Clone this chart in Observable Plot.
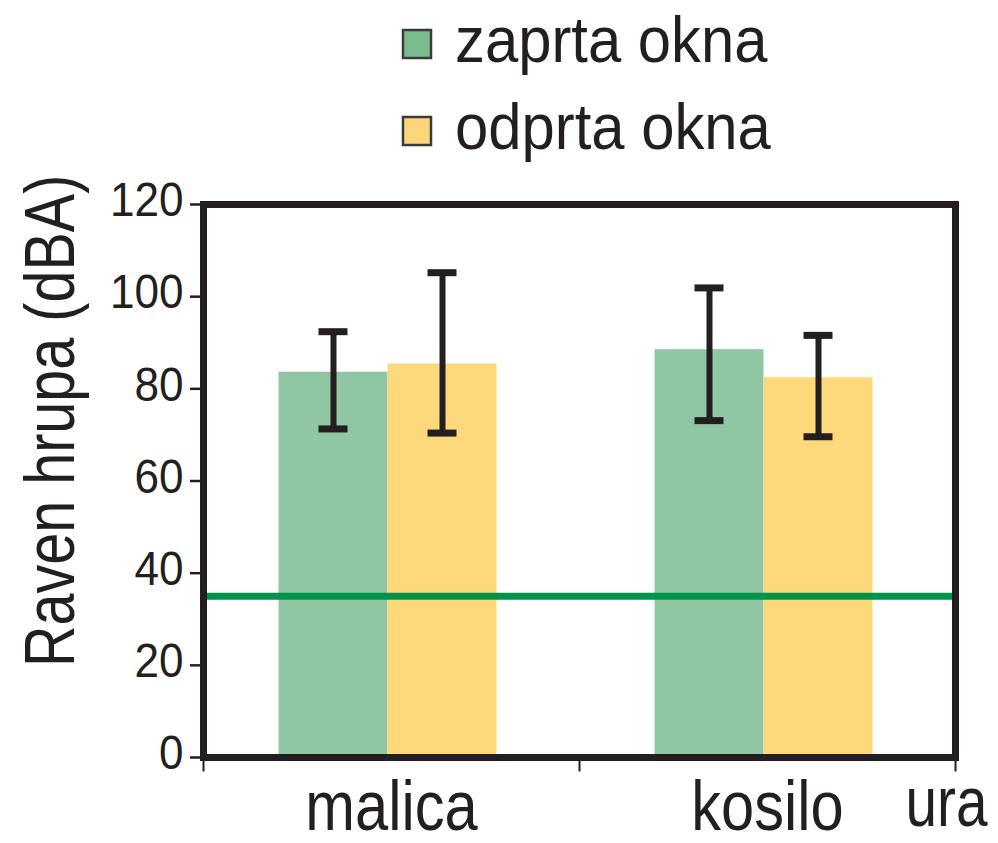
<!DOCTYPE html>
<html><head><meta charset="utf-8">
<script src="https://cdn.jsdelivr.net/npm/d3@7"></script>
<script src="https://cdn.jsdelivr.net/npm/@observablehq/plot@0.6"></script>
<style>
body{margin:0;background:#fff;}
#chart{position:relative;width:998px;height:843px;}
</style></head><body><div id="chart"></div>
<script>
const categories = ["malica", "kosilo"];
const seriesNames = ["zaprta okna", "odprta okna"];
const zaprtaMean = [83.6, 88.5];
const zaprtaLow = [71.3, 73.1];
const zaprtaHigh = [92.4, 101.9];
const odprtaMean = [85.4, 82.4];
const odprtaLow = [70.4, 69.6];
const odprtaHigh = [105.2, 91.6];
const limitLevel = [35];
const yTicks = [0, 20, 40, 60, 80, 100, 120];
const yLabel = "Raven hrupa (dBA)";
const xLabel = "ura";
const barColors = ["#8fc6a3", "#fdd97c"];
const swatchColors = ["#7bbd8e", "#fdd67a"];

const rows = [];
categories.forEach((c, i) => {
  rows.push({cat: c, series: seriesNames[0], value: zaprtaMean[i], lo: zaprtaLow[i], hi: zaprtaHigh[i]});
  rows.push({cat: c, series: seriesNames[1], value: odprtaMean[i], lo: odprtaLow[i], hi: odprtaHigh[i]});
});

const FONT = '"Liberation Sans",Arial,Helvetica,sans-serif';
const INK = "#231f20";
const W = 998, legendH = 170, H = 843 - legendH;
const mT = 34, mB = 86, mL = 202.5, mR = 42;
const innerH = H - mT - mB;

// condensed look: compress glyphs horizontally along the text direction
function squeeze(node, ratio) {
  const L = node.getComputedTextLength();
  if (L > 0) {
    node.setAttribute("textLength", (L * ratio).toFixed(1));
    node.setAttribute("lengthAdjust", "spacingAndGlyphs");
  }
}
// same look through a transform (keeps the text's box inside the picture)
function squeezeByTransform(node, ratio) {
  const tr = node.getAttribute("transform") || "";
  node.setAttribute("transform", `${tr} scale(${ratio},1)`);
}

// legend above the plot
const leg = d3.select("#chart").append("svg")
  .attr("width", W).attr("height", legendH).style("display", "block")
  .attr("font-family", FONT);
const items = leg.selectAll("g").data(seriesNames).join("g")
  .attr("transform", (d, i) => `translate(0,${i * 87})`);
items.append("rect").attr("x", 403).attr("y", 30).attr("width", 28).attr("height", 28)
  .attr("fill", (d, i) => swatchColors[i]).attr("stroke", "#3b3b3b").attr("stroke-width", 2.5);
items.append("text").attr("x", 455).attr("y", 62).attr("font-size", 65)
  .attr("fill", INK).text(d => d);

const chart = Plot.plot({
  width: W, height: H,
  marginTop: mT, marginBottom: mB, marginLeft: mL, marginRight: mR,
  style: {fontFamily: FONT, color: INK, background: "transparent", overflow: "visible"},
  fx: {domain: categories, padding: 0, label: null},
  x: {domain: seriesNames, paddingInner: 0, paddingOuter: 0.7125, align: 0.48, axis: null},
  y: {domain: [0, 120], ticks: yTicks, label: null},
  color: {domain: seriesNames, range: barColors},
  marks: [
    Plot.barY(rows, {fx: "cat", x: "series", y: "value", fill: "series"}),
    Plot.ruleY(limitLevel, {stroke: "#00944a", strokeWidth: 7}),
    Plot.ruleX(rows, {fx: "cat", x: "series", y1: "lo", y2: "hi", stroke: INK, strokeWidth: 6}),
    Plot.tickY(rows, {fx: "cat", x: "series", y: "hi", stroke: INK, strokeWidth: 7, insetLeft: 40, insetRight: 40}),
    Plot.tickY(rows, {fx: "cat", x: "series", y: "lo", stroke: INK, strokeWidth: 7, insetLeft: 40, insetRight: 40}),
    Plot.frame({facet: "super", stroke: INK, strokeWidth: 7}),
    Plot.frame({anchor: "left", insetTop: innerH, insetBottom: -13, stroke: INK, strokeWidth: 2}),
    Plot.frame({anchor: "right", facet: "super", insetTop: innerH, insetBottom: -13, stroke: INK, strokeWidth: 2}),
    Plot.axisY({ticks: yTicks, tickSize: 13, text: null, strokeWidth: 2.5}),
    Plot.axisY({ticks: yTicks, tickSize: 0, tickPadding: 20, dy: -4, fontSize: 49, label: null}),
    Plot.axisFx({anchor: "bottom", tickSize: 0, tickPadding: 22, fontSize: 71, label: null}),
    Plot.text([yLabel], {facet: "super", frameAnchor: "left", rotate: -90, textAnchor: "start", fontSize: 71, dx: -152, dy: 186, fill: INK}),
    Plot.text([xLabel], {facet: "super", frameAnchor: "bottom-right", textAnchor: "end", lineAnchor: "top", fontSize: 70, dx: 32, dy: 19, fill: INK})
  ]
});
d3.select(chart).style("display", "block");
document.getElementById("chart").appendChild(chart);

leg.selectAll("text").each(function() { squeeze(this, 0.92); });
d3.select(chart).selectAll("text").each(function() {
  const t = this.textContent;
  if (/^\d+$/.test(t)) squeeze(this, 0.9);
  else if (t === yLabel) squeeze(this, 0.81);
  else if (t === xLabel) squeezeByTransform(this, 0.81);
  else squeeze(this, 0.84);
});
</script></body></html>
